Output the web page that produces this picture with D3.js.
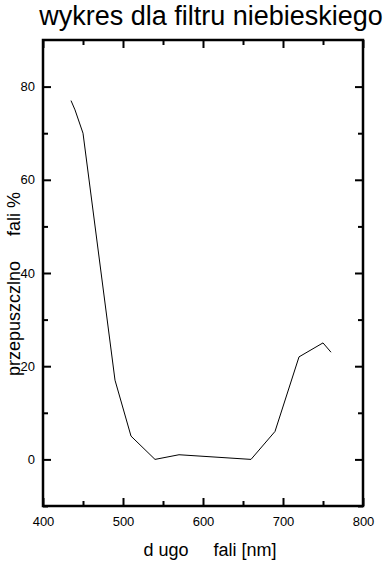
<!DOCTYPE html>
<html>
<head>
<meta charset="utf-8">
<script src="https://cdn.jsdelivr.net/npm/d3@7"></script>
<style>
  body { margin: 0; background: #fff; }
  svg { display: block; font-family: "Liberation Sans", Arial, sans-serif; }
</style>
</head>
<body>
<div id="chart"></div>
<script>
// wavelength [nm] and transmission [%]
const wavelengths = [435, 440, 450, 490, 510, 540, 570, 660, 690, 720, 750, 760];
const transmission = [77, 75, 70, 17, 5, 0, 1, 0, 6, 22, 25, 23];
const xTicks = [400, 500, 600, 700, 800];
const xMinorTicks = [450, 550, 650, 750];
const yTicks = [0, 20, 40, 60, 80];
const yMinorTicks = [-10, 10, 30, 50, 70];

const width = 389, height = 562;
const margin = {top: 40, right: 26, bottom: 56, left: 43};
const w = width - margin.left - margin.right,
      h = height - margin.top - margin.bottom;

const svg = d3.select('#chart')
  .append('svg')
  .attr('width', width)
  .attr('height', height);

const g = svg.append('g')
  .attr('transform', 'translate(' + margin.left + ',' + margin.top + ')');

const x = d3.scaleLinear().domain([400, 800]).range([0, w]);
const y = d3.scaleLinear().domain([-10, 90]).range([h, 0]);

function styleAxis(sel) {
  sel.select('.domain').remove();
  sel.selectAll('line').attr('stroke', '#000').attr('stroke-width', 2);
  sel.selectAll('text').attr('fill', '#000').attr('font-size', 13)
    .attr('font-family', '"Liberation Sans", Arial, sans-serif');
}

// bottom axis with labels
g.append('g')
  .attr('transform', 'translate(0,' + h + ')')
  .call(d3.axisBottom(x).tickValues(xTicks).tickSize(-8).tickSizeOuter(0).tickPadding(11))
  .call(styleAxis);
g.append('g')
  .attr('transform', 'translate(0,' + h + ')')
  .call(d3.axisBottom(x).tickValues(xMinorTicks).tickSize(-5).tickSizeOuter(0).tickFormat(''))
  .call(styleAxis);

// top axis
g.append('g')
  .call(d3.axisTop(x).tickValues(xTicks).tickSize(-8).tickSizeOuter(0).tickFormat(''))
  .call(styleAxis);
g.append('g')
  .call(d3.axisTop(x).tickValues(xMinorTicks).tickSize(-5).tickSizeOuter(0).tickFormat(''))
  .call(styleAxis);

// left axis with labels
g.append('g')
  .call(d3.axisLeft(y).tickValues(yTicks).tickSize(-8).tickSizeOuter(0).tickPadding(8))
  .call(styleAxis);
g.append('g')
  .call(d3.axisLeft(y).tickValues(yMinorTicks).tickSize(-5).tickSizeOuter(0).tickFormat(''))
  .call(styleAxis);

// right axis
g.append('g')
  .attr('transform', 'translate(' + w + ',0)')
  .call(d3.axisRight(y).tickValues(yTicks).tickSize(-8).tickSizeOuter(0).tickFormat(''))
  .call(styleAxis);
g.append('g')
  .attr('transform', 'translate(' + w + ',0)')
  .call(d3.axisRight(y).tickValues(yMinorTicks).tickSize(-5).tickSizeOuter(0).tickFormat(''))
  .call(styleAxis);

// frame
g.append('rect')
  .attr('width', w)
  .attr('height', h)
  .attr('fill', 'none')
  .attr('stroke', '#000')
  .attr('stroke-width', 2.5);

// data line
const line = d3.line()
  .x((d, i) => x(wavelengths[i]))
  .y((d) => y(d));

g.append('path')
  .datum(transmission)
  .attr('fill', 'none')
  .attr('stroke', '#000')
  .attr('stroke-width', 1)
  .attr('d', line);

// title
svg.append('text')
  .attr('x', 211)
  .attr('y', 25)
  .attr('text-anchor', 'middle')
  .attr('font-size', 27)
  .text('wykres dla filtru niebieskiego');

// x label (missing glyphs left as gaps)
svg.append('text')
  .attr('x', 210)
  .attr('y', 556)
  .attr('text-anchor', 'middle')
  .attr('font-size', 18)
  .style('white-space', 'pre')
  .text('d ugo     fali [nm]');

// y label
svg.append('text')
  .attr('transform', 'translate(20,284) rotate(-90)')
  .attr('text-anchor', 'middle')
  .attr('font-size', 18)
  .style('white-space', 'pre')
  .text('przepuszczlno     fali %');
</script>
</body>
</html>
